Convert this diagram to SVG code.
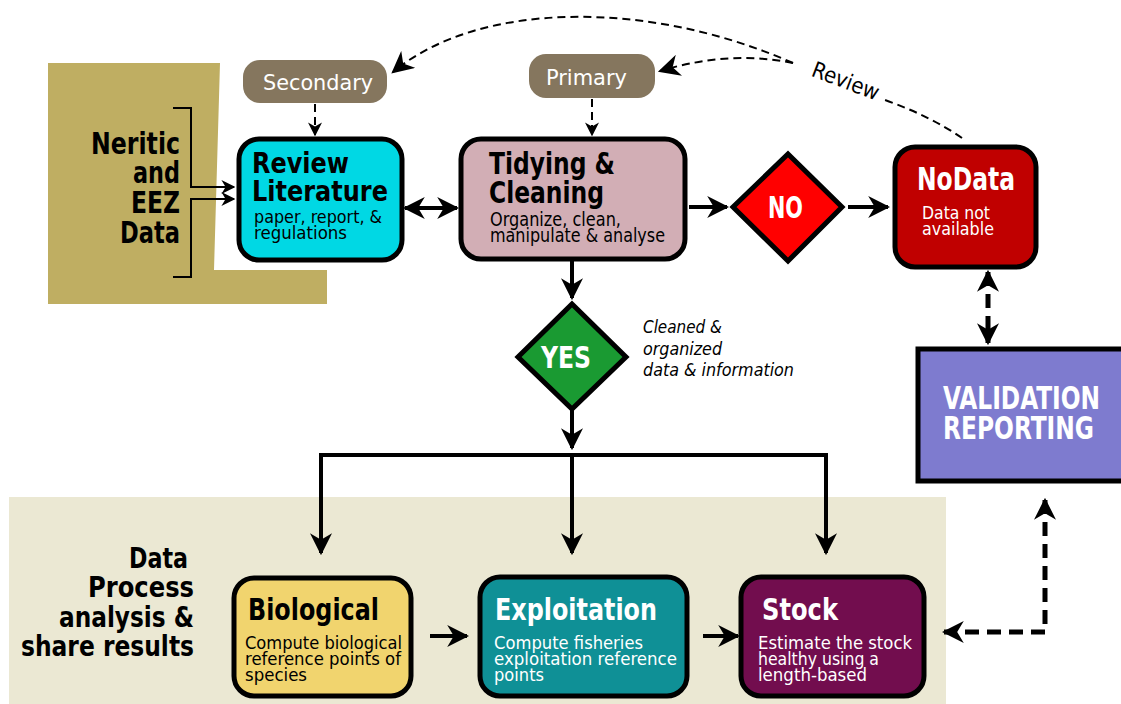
<svg xmlns="http://www.w3.org/2000/svg" width="1121" height="704" viewBox="0 0 1121 704">
<defs>
<style>
text{font-family:"DejaVu Sans Condensed","DejaVu Sans",sans-serif}
.b{font-weight:bold}
.box{stroke:#000;stroke-width:5}
.ln{fill:none;stroke:#000;stroke-width:4}
.thin{fill:none;stroke:#000;stroke-width:2}
.dsh{fill:none;stroke:#000;stroke-width:2;stroke-dasharray:8,5}
.dshT{fill:none;stroke:#000;stroke-width:5;stroke-dasharray:14,8}
.w{fill:#fff}
</style>
<marker id="a" viewBox="0 0 10 10" refX="9" refY="5" markerWidth="22" markerHeight="22" orient="auto-start-reverse" markerUnits="userSpaceOnUse">
<path d="M0,0 L10,5 L0,10 L3,5 z" fill="#000"/>
</marker>
<marker id="as" viewBox="0 0 10 10" refX="9" refY="5" markerWidth="14" markerHeight="14" orient="auto-start-reverse" markerUnits="userSpaceOnUse">
<path d="M0,0 L10,5 L0,10 L3,5 z" fill="#000"/>
</marker>
</defs>
<rect width="1121" height="704" fill="#fff"/>

<!-- backgrounds -->
<polygon points="48,63 220,63 214,270 327,270 327,304 48,304" fill="#BFAE62"/>
<rect x="9" y="497" width="937" height="207" fill="#EBE8D3"/>

<g id="label-neritic" lengthAdjust="spacingAndGlyphs">
<text class="b" font-size="30" text-anchor="end" x="180" y="154" textLength="89" lengthAdjust="spacingAndGlyphs">Neritic</text>
<text class="b" font-size="30" text-anchor="end" x="180" y="183" textLength="47" lengthAdjust="spacingAndGlyphs">and</text>
<text class="b" font-size="30" text-anchor="end" x="180" y="213" textLength="49" lengthAdjust="spacingAndGlyphs">EEZ</text>
<text class="b" font-size="30" text-anchor="end" x="180" y="243" textLength="60" lengthAdjust="spacingAndGlyphs">Data</text>
</g>

<g id="label-process">
<text class="b" font-size="29" text-anchor="end" x="188" y="568" textLength="59" lengthAdjust="spacingAndGlyphs">Data</text>
<text class="b" font-size="29" text-anchor="end" x="194" y="597" textLength="106" lengthAdjust="spacingAndGlyphs">Process</text>
<text class="b" font-size="29" text-anchor="end" x="194" y="627" textLength="135" lengthAdjust="spacingAndGlyphs">analysis &amp;</text>
<text class="b" font-size="29" text-anchor="end" x="194" y="656" textLength="173" lengthAdjust="spacingAndGlyphs">share results</text>
</g>

<g id="connectors">
<path class="thin" d="M173,108 H191 V187 H234" marker-end="url(#as)"/>
<path class="thin" d="M173,277 H191 V199 H234" marker-end="url(#as)"/>
<path class="dsh" d="M315,104 V135" marker-end="url(#as)"/>
<path class="dsh" d="M592,99 V135" marker-end="url(#as)"/>
<path class="ln" d="M405,208 H457" marker-start="url(#a)" marker-end="url(#a)"/>
<path class="ln" d="M689,207 H727" marker-end="url(#a)"/>
<path class="ln" d="M848,207 H888" marker-end="url(#a)"/>
<path class="ln" d="M572,260 V298" marker-end="url(#a)"/>
<path class="ln" d="M572,410 V448" marker-end="url(#a)"/>
<path class="ln" d="M321,553 V455 H826 V553" marker-end="url(#a)" marker-start="url(#a)"/>
<path class="ln" d="M572,455 V553" marker-end="url(#a)"/>
<path class="ln" d="M430,636 H467" marker-end="url(#a)"/>
<path class="ln" d="M703,636 H738" marker-end="url(#a)"/>
<path class="dshT" d="M988,272 V343" marker-start="url(#a)" marker-end="url(#a)"/>
<path class="dshT" d="M1045,500 V632 H944" marker-start="url(#a)" marker-end="url(#a)"/>
<path class="dsh" d="M962,138 Q930,116 885,100"/>
<path class="dsh" d="M793,63 C650,0 480,0 393,72" marker-end="url(#a)"/>
<path class="dsh" d="M793,63 Q730,50 660,71" marker-end="url(#a)"/>
<text font-size="22" transform="translate(843,88) rotate(21)" text-anchor="middle" textLength="70" lengthAdjust="spacingAndGlyphs">Review</text>
</g>

<g id="secondary">
<rect x="243" y="60" width="144" height="43" rx="17" fill="#85765E"/>
<text class="w" font-size="22" x="263" y="90" textLength="110" lengthAdjust="spacingAndGlyphs">Secondary</text>
</g>

<g id="primary">
<rect x="529" y="54" width="126" height="44" rx="17" fill="#85765E"/>
<text class="w" font-size="22" x="546" y="85" textLength="81" lengthAdjust="spacingAndGlyphs">Primary</text>
</g>

<g id="review">
<rect class="box" x="239" y="139" width="163" height="121" rx="20" fill="#00D8E4"/>
<text class="b" font-size="29" x="252" y="173" textLength="97" lengthAdjust="spacingAndGlyphs">Review</text>
<text class="b" font-size="29" x="252" y="201" textLength="136" lengthAdjust="spacingAndGlyphs">Literature</text>
<text font-size="18" x="254" y="223" textLength="128" lengthAdjust="spacingAndGlyphs">paper, report, &amp;</text>
<text font-size="18" x="254" y="239" textLength="93" lengthAdjust="spacingAndGlyphs">regulations</text>
</g>

<g id="tidying">
<rect class="box" x="461" y="139" width="224" height="120" rx="20" fill="#D2AEB5"/>
<text class="b" font-size="31" x="489" y="174" textLength="126" lengthAdjust="spacingAndGlyphs">Tidying &amp;</text>
<text class="b" font-size="31" x="489" y="203" textLength="115" lengthAdjust="spacingAndGlyphs">Cleaning</text>
<text font-size="19" x="490" y="226" textLength="131" lengthAdjust="spacingAndGlyphs">Organize, clean,</text>
<text font-size="19" x="490" y="242" textLength="175" lengthAdjust="spacingAndGlyphs">manipulate &amp; analyse</text>
</g>

<g id="no">
<polygon class="box" points="788,154 842,207 788,261 733,207" fill="#FF0000"/>
<text class="b w" font-size="30" x="768" y="218" textLength="35" lengthAdjust="spacingAndGlyphs">NO</text>
</g>

<g id="nodata">
<rect class="box" x="895" y="147" width="141" height="120" rx="20" fill="#C00000"/>
<text class="b w" font-size="32" x="917" y="190" textLength="98" lengthAdjust="spacingAndGlyphs">NoData</text>
<text class="w" font-size="18" x="922" y="219" textLength="68" lengthAdjust="spacingAndGlyphs">Data not</text>
<text class="w" font-size="18" x="922" y="235" textLength="72" lengthAdjust="spacingAndGlyphs">available</text>
</g>

<g id="yes">
<polygon class="box" points="572,304 626,357 572,409 518,357" fill="#1A9A32"/>
<text class="b w" font-size="30" x="541" y="368" textLength="50" lengthAdjust="spacingAndGlyphs">YES</text>
</g>

<g id="note">
<text font-size="18" font-style="italic" x="643" y="333" textLength="79" lengthAdjust="spacingAndGlyphs">Cleaned &amp;</text>
<text font-size="18" font-style="italic" x="643" y="355" textLength="79" lengthAdjust="spacingAndGlyphs">organized</text>
<text font-size="18" font-style="italic" x="643" y="376" textLength="151" lengthAdjust="spacingAndGlyphs">data &amp; information</text>
</g>

<g id="validation">
<rect class="box" x="918" y="349" width="210" height="132" fill="#7E7BCF"/>
<text class="b w" font-size="32" x="943" y="409" textLength="157" lengthAdjust="spacingAndGlyphs">VALIDATION</text>
<text class="b w" font-size="32" x="943" y="439" textLength="151" lengthAdjust="spacingAndGlyphs">REPORTING</text>
</g>

<g id="biological">
<rect class="box" x="234" y="578" width="177" height="118" rx="20" fill="#F1D46E"/>
<text class="b" font-size="30" x="248" y="620" textLength="131" lengthAdjust="spacingAndGlyphs">Biological</text>
<text font-size="18" x="245" y="649" textLength="157" lengthAdjust="spacingAndGlyphs">Compute biological</text>
<text font-size="18" x="245" y="665" textLength="156" lengthAdjust="spacingAndGlyphs">reference points of</text>
<text font-size="18" x="245" y="681" textLength="62" lengthAdjust="spacingAndGlyphs">species</text>
</g>

<g id="exploitation">
<rect class="box" x="480" y="577" width="207" height="119" rx="20" fill="#0F9096"/>
<text class="b w" font-size="30" x="495" y="620" textLength="162" lengthAdjust="spacingAndGlyphs">Exploitation</text>
<text class="w" font-size="18" x="494" y="649" textLength="149" lengthAdjust="spacingAndGlyphs">Compute fisheries</text>
<text class="w" font-size="18" x="494" y="665" textLength="183" lengthAdjust="spacingAndGlyphs">exploitation reference</text>
<text class="w" font-size="18" x="494" y="681" textLength="50" lengthAdjust="spacingAndGlyphs">points</text>
</g>

<g id="stock">
<rect class="box" x="741" y="577" width="183" height="119" rx="20" fill="#720D4E"/>
<text class="b w" font-size="30" x="762" y="620" textLength="76" lengthAdjust="spacingAndGlyphs">Stock</text>
<text class="w" font-size="18" x="758" y="649" textLength="154" lengthAdjust="spacingAndGlyphs">Estimate the stock</text>
<text class="w" font-size="18" x="758" y="665" textLength="121" lengthAdjust="spacingAndGlyphs">healthy using a</text>
<text class="w" font-size="18" x="758" y="681" textLength="109" lengthAdjust="spacingAndGlyphs">length-based</text>
</g>
</svg>
